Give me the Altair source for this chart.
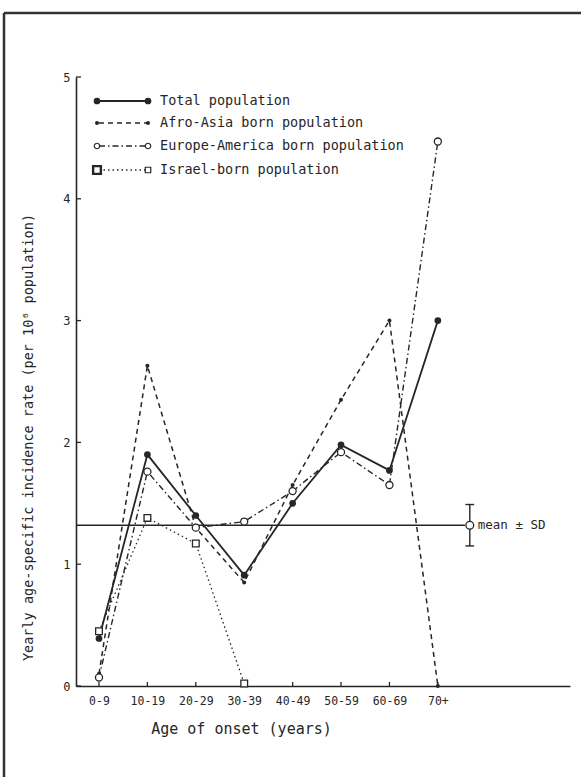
import altair as alt
import pandas as pd

# Age groups along the x axis (plotted at integer positions 0..7)
age_groups = ["0-9", "10-19", "20-29", "30-39", "40-49", "50-59", "60-69", "70+"]

# Yearly age-specific incidence rate (per 10^6 population)
total_pop = [0.39, 1.90, 1.40, 0.91, 1.50, 1.98, 1.77, 3.00]
afro_asia = [0.10, 2.63, 1.30, 0.85, 1.65, 2.35, 3.00, 0.00]
europe_america = [0.07, 1.76, 1.30, 1.35, 1.60, 1.92, 1.65, 4.47]
israel_born = [0.45, 1.38, 1.17, 0.02]

# Mean +/- SD summary drawn as a horizontal reference line
mean_rate = 1.32
sd_rate = 0.17
summary_pos = 7.66

INK = "#262626"
FONT = "DejaVu Sans Mono"
W, H = 494, 609
X_DOMAIN = [-0.475, 9.73]

xs = alt.Scale(domain=X_DOMAIN, nice=False, zero=False)
ys = alt.Scale(domain=[0, 5], nice=False)

label_expr = "[" + ",".join(f"'{g}'" for g in age_groups) + "][datum.value]"

x_axis = alt.Axis(
    values=list(range(len(age_groups))), labelExpr=label_expr,
    title="Age of onset (years)", ticks=False, grid=False,
    domainColor=INK, domainWidth=1.6, labelColor=INK, labelFont=FONT,
    labelFontSize=11.5, labelPadding=9, titleColor=INK, titleFont=FONT,
    titleFontSize=15, titleFontWeight="normal", titleX=165, titleY=42,
    titleAlign="center", titleBaseline="middle",
)
y_axis = alt.Axis(
    values=[0, 1, 2, 3, 4, 5], format="d",
    title="Yearly age-specific incidence rate (per 10⁶ population)",
    ticks=False, grid=False, domainColor=INK, domainWidth=1.6, labelColor=INK,
    labelFont=FONT, labelFontSize=12, labelPadding=6, titleColor=INK,
    titleFont=FONT, titleFontSize=13.5, titleFontWeight="normal",
    titleX=-48, titleY=360, titleAngle=-90, titleAlign="center",
    titleBaseline="middle",
)

series = [
    ("Total population", total_pop, [], 1.8, "circle", True, 45),
    ("Afro-Asia born population", afro_asia, [5, 4], 1.5, "circle", True, 16),
    ("Europe-America born population", europe_america, [6, 3, 1.5, 3], 1.4, "circle", False, 50),
    ("Israel-born population", israel_born, [1.5, 3], 1.3, "square", False, 45),
]

layers = []

# Axes carrier with inside tick marks
axes_df = pd.DataFrame({"pos": list(range(len(age_groups)))})
layers.append(
    alt.Chart(axes_df).mark_rule(color=INK, strokeWidth=1.3).encode(
        x=alt.X("pos:Q", scale=xs, axis=x_axis),
        y=alt.value(H), y2=alt.value(H - 4),
    )
)
yt_df = pd.DataFrame({"v": [0, 1, 2, 3, 4, 5]})
layers.append(
    alt.Chart(yt_df).mark_rule(color=INK, strokeWidth=1.3).encode(
        y=alt.Y("v:Q", scale=ys, axis=y_axis),
        x=alt.value(0), x2=alt.value(5),
    )
)

# Mean line, with the mean +/- SD marker on its right end
mean_df = pd.DataFrame({"x0": [X_DOMAIN[0]], "x1": [summary_pos - 0.1], "m": [mean_rate]})
layers.append(
    alt.Chart(mean_df).mark_rule(color=INK, strokeWidth=1.4).encode(
        x=alt.X("x0:Q", scale=xs), x2="x1:Q", y=alt.Y("m:Q", scale=ys)
    )
)
sd_df = pd.DataFrame({
    "x": [summary_pos], "m": [mean_rate],
    "lo": [mean_rate - sd_rate], "hi": [mean_rate + sd_rate],
    "xl": [summary_pos - 0.09], "xr": [summary_pos + 0.09],
})
sd_base = alt.Chart(sd_df)
layers.append(sd_base.mark_rule(color=INK, strokeWidth=1.4).encode(
    x=alt.X("x:Q", scale=xs), y=alt.Y("lo:Q", scale=ys), y2="hi:Q"))
layers.append(sd_base.mark_rule(color=INK, strokeWidth=1.4).encode(
    x=alt.X("xl:Q", scale=xs), x2="xr:Q", y=alt.Y("lo:Q", scale=ys)))
layers.append(sd_base.mark_rule(color=INK, strokeWidth=1.4).encode(
    x=alt.X("xl:Q", scale=xs), x2="xr:Q", y=alt.Y("hi:Q", scale=ys)))
layers.append(sd_base.mark_point(shape="circle", size=60, filled=True, fill="white",
                                 stroke=INK, strokeWidth=1.3, opacity=1).encode(
    x=alt.X("x:Q", scale=xs), y=alt.Y("m:Q", scale=ys)))
layers.append(sd_base.mark_text(text="mean ± SD", align="left", baseline="middle", dx=8,
                                font=FONT, fontSize=12.5, color=INK).encode(
    x=alt.X("x:Q", scale=xs), y=alt.Y("m:Q", scale=ys)))

# One line + markers per population group
for name, vals, dash, sw, shape, filled, size in series:
    df = pd.DataFrame({"pos": list(range(len(vals))), "rate": vals,
                       "group": [age_groups[i] for i in range(len(vals))]})
    base = alt.Chart(df).encode(x=alt.X("pos:Q", scale=xs), y=alt.Y("rate:Q", scale=ys))
    line_kw = dict(color=INK, strokeWidth=sw)
    if dash:
        line_kw["strokeDash"] = dash
    layers.append(base.mark_line(**line_kw))
    if filled:
        layers.append(base.mark_point(shape=shape, size=size, filled=True, color=INK, opacity=1))
    else:
        layers.append(base.mark_point(shape=shape, size=size, filled=True, fill="white",
                                      stroke=INK, strokeWidth=1.3, opacity=1))

# Key in the upper-left corner of the plot
key_rows = [24, 46, 69, 93]
for (name, vals, dash, sw, shape, filled, size), ry in zip(series, key_rows):
    kdf = pd.DataFrame({"label": [name]})
    kb = alt.Chart(kdf)
    rule_kw = dict(color=INK, strokeWidth=sw)
    if dash:
        rule_kw["strokeDash"] = dash
    layers.append(kb.mark_rule(**rule_kw).encode(x=alt.value(23), x2=alt.value(71), y=alt.value(ry)))
    for kx in (21, 72):
        if shape == "square" and kx == 21:
            layers.append(kb.mark_point(shape="square", size=60, filled=True, fill="white",
                                        stroke=INK, strokeWidth=2.4, opacity=1).encode(
                x=alt.value(kx), y=alt.value(ry)))
        elif filled:
            layers.append(kb.mark_point(shape=shape, size=size, filled=True, color=INK, opacity=1).encode(
                x=alt.value(kx), y=alt.value(ry)))
        else:
            layers.append(kb.mark_point(shape=shape, size=30, filled=True, fill="white",
                                        stroke=INK, strokeWidth=1.2, opacity=1).encode(
                x=alt.value(kx), y=alt.value(ry)))
    layers.append(kb.mark_text(align="left", baseline="middle", font=FONT, fontSize=13.5,
                               color=INK).encode(text="label:N", x=alt.value(84), y=alt.value(ry)))

# Figure frame (top and left edges)
frame = pd.DataFrame({"k": [0]})
layers.append(alt.Chart(frame).mark_rule(color="#333333", strokeWidth=2.5).encode(
    x=alt.value(-72), x2=alt.value(510), y=alt.value(-64)))
layers.append(alt.Chart(frame).mark_rule(color="#333333", strokeWidth=2.5).encode(
    x=alt.value(-72), y=alt.value(-64), y2=alt.value(705)))

chart = alt.layer(*layers).properties(
    width=W, height=H,
    autosize=alt.AutoSizeParams(type="none"),
    padding={"left": 76, "top": 77, "right": 11, "bottom": 91},
    background="white",
).configure_view(stroke=None)

chart.save("out.html", embed_options={"renderer": "svg", "actions": False})
